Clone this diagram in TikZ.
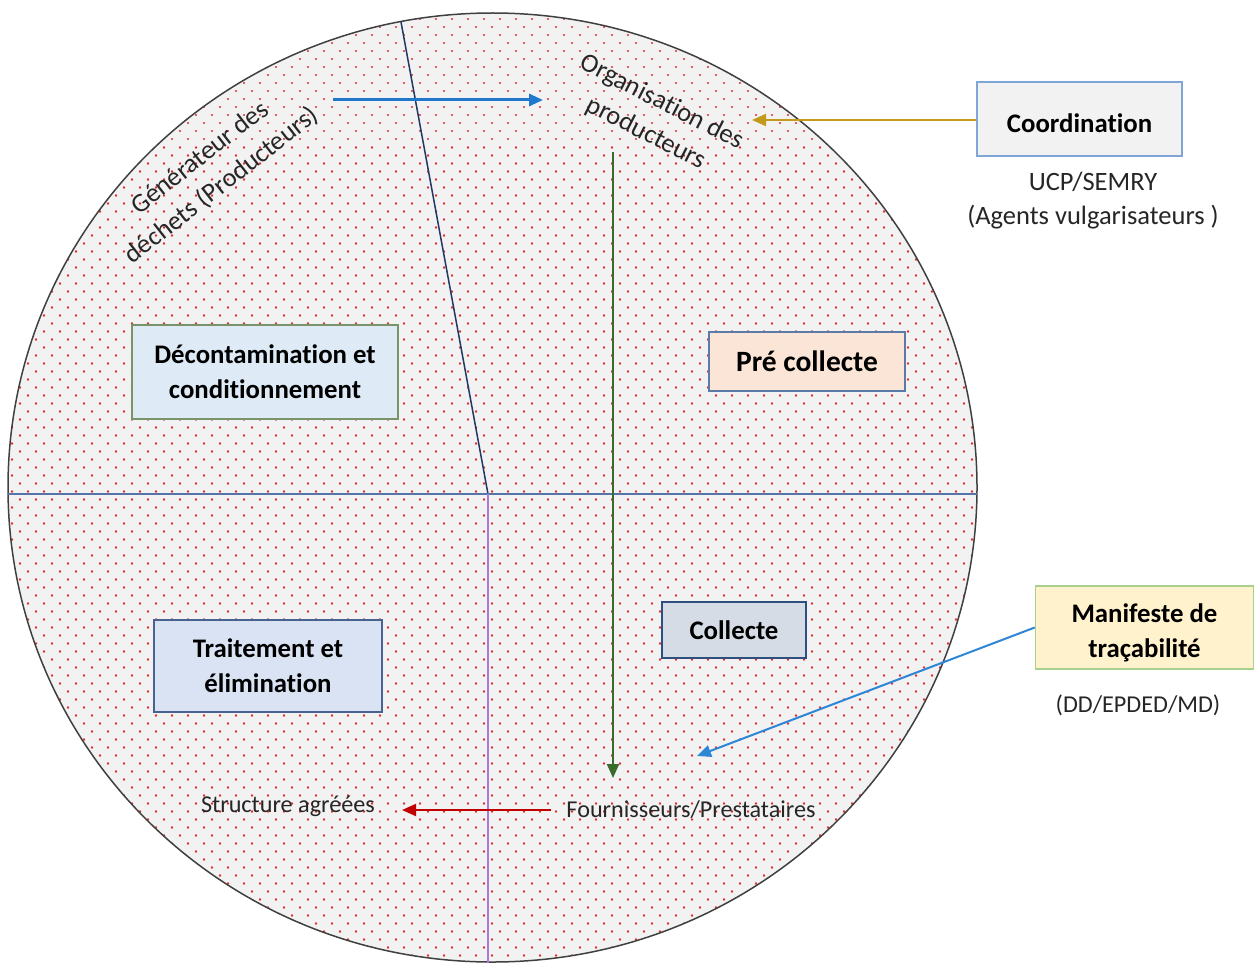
\documentclass[tikz,border=0pt]{standalone}
\usepackage{fontspec}
\setmainfont{Carlito}[Ligatures=NoCommon]
\usetikzlibrary{arrows.meta}
\definecolor{circfill}{HTML}{F2F2F2}
\definecolor{circline}{HTML}{404040}
\definecolor{dotred}{HTML}{E8262A}
\definecolor{txt}{HTML}{262626}
\definecolor{coordfill}{HTML}{F2F2F2}
\definecolor{coorddraw}{HTML}{7FA6D6}
\definecolor{decofill}{HTML}{DEEBF7}
\definecolor{decodraw}{HTML}{7A946A}
\definecolor{prefill}{HTML}{FBE5D6}
\definecolor{predraw}{HTML}{5A7AA8}
\definecolor{collfill}{HTML}{D6DCE5}
\definecolor{colldraw}{HTML}{2F4F80}
\definecolor{traitfill}{HTML}{DAE3F3}
\definecolor{traitdraw}{HTML}{4A6290}
\definecolor{maniffill}{HTML}{FFF2CC}
\definecolor{manifdraw}{HTML}{A9D18E}
\definecolor{navyline}{HTML}{203864}
\definecolor{hline}{HTML}{5575AA}
\definecolor{vline}{HTML}{A77BD6}
\definecolor{arrblue}{HTML}{1F78CC}
\definecolor{arrblue2}{HTML}{2E86D6}
\definecolor{arrgold}{HTML}{C49A1A}
\definecolor{arrgreen}{HTML}{3A6B2A}
\definecolor{arrred}{HTML}{C00000}
\tikzset{
  boxnode/.style={draw, line width=1.5pt, font=\bfseries\fontsize{26.8}{35}\selectfont, align=center, inner sep=0pt, text=black},
  boxtext/.style={font=\bfseries\fontsize{26.8}{35}\selectfont, align=center, inner sep=0pt, text=black},
  plaintext/.style={font=\fontsize{26.5}{35}\selectfont, text=txt, align=center, inner sep=0pt},
  smalltext/.style={font=\fontsize{24.2}{30}\selectfont, text=txt, align=center, inner sep=0pt},
  arr/.style={line width=2pt, -{Triangle[length=14pt,width=12pt]}},
  dotrow/.style={dotred, line width=2.4pt, line cap=round, dash pattern=on 0.01pt off 15.99pt},
}
\begin{document}
\begin{tikzpicture}[x=1pt,y=-1pt]
\useasboundingbox (0,0) rectangle (1255,963);
\begin{scope}
  \clip (0,0) rectangle (1255,963);
  \fill[circfill] (492.5,487.5) ellipse [x radius=484.5, y radius=474.5];
  \begin{scope}
    \clip (492.5,487.5) ellipse [x radius=484.5, y radius=474.5];
    \foreach \j in {0,...,119}{
      \pgfmathsetmacro{\dotxstart}{4+8*mod(\j,2)}
      \pgfmathsetmacro{\dotyrow}{3.3+8*\j}
      \draw[dotrow] (\dotxstart,\dotyrow) -- (1000,\dotyrow);
    }
  \end{scope}
  \draw[circline, line width=1.5pt] (492.5,487.5) ellipse [x radius=484.5, y radius=474.5];
\end{scope}

% dividing lines
\coordinate (ntop) at (401,22);
\coordinate (ctr) at (488,494);
\coordinate (hl) at (8,494);
\coordinate (hr) at (977,494);
\coordinate (vb) at (488,963);
\draw[navyline, line width=1.5pt] (ntop) -- (ctr);
\draw[hline, line width=2.2pt] (hl) -- (hr);
\draw[vline, line width=2pt] (ctr) -- (vb);

% boxes
\node[boxnode, fill=coordfill, draw=coorddraw, minimum width=205pt, minimum height=74pt, text height=27.2pt, text depth=0pt] (coord) at (1079.5,119) {Coordination};
\node[boxnode, fill=decofill, draw=decodraw, minimum width=266pt, minimum height=94pt] (deco) at (265,372) {Décontamination et\\conditionnement};
\node[boxnode, fill=prefill, draw=predraw, minimum width=196pt, minimum height=59pt, font=\bfseries\fontsize{29.5}{35}\selectfont] (pre) at (807,361.5) {Pré collecte};
\node[boxnode, fill=collfill, draw=colldraw, minimum width=144pt, minimum height=56pt] (coll) at (734,630) {Collecte};
\node[boxnode, fill=traitfill, draw=traitdraw, minimum width=228pt, minimum height=92pt] (trait) at (268,666) {Traitement et\\élimination};
\node[boxnode, fill=maniffill, draw=manifdraw, minimum width=218pt, minimum height=83pt] (manif) at (1144.5,627.5) {};
\node[boxtext] (maniftext) at (1144.5,632.5) {Manifeste de\\traçabilité};

% texts
\node[plaintext, rotate=38] (gen) at (211,172) {Générateur des\\déchets (Producteurs)};
\node[plaintext, rotate=-27] (org) at (654,118) {Organisation des\\producteurs};
\node[plaintext] (ucp) at (1093,182) {UCP/SEMRY};
\node[plaintext] (agents) at (1093,217) {(Agents vulgarisateurs )};
\node[smalltext] (dd) at (1138,705) {(DD/EPDED/MD)};
\node[smalltext] (struct) at (288,806) {Structure agréées};
\node[smalltext] (fourn) at (691,810) {Fournisseurs/Prestataires};

% arrows
\coordinate (b1s) at (333,100);
\coordinate (b1e) at (543,100);
\draw[arr, arrblue, line width=3pt] (b1s) -- (b1e);
\coordinate (goldend) at (752,120);
\draw[arr, arrgold] (coord.west |- goldend) -- (goldend);
\coordinate (gs) at (613,152);
\coordinate (ge) at (613,778);
\draw[arr, arrgreen] (gs) -- (ge);
\coordinate (rs) at (551,810);
\coordinate (re) at (402,810);
\draw[arr, arrred] (rs) -- (re);
\coordinate (mend) at (697,756);
\draw[arr, arrblue2] (manif.west) -- (mend);
\end{tikzpicture}
\end{document}
